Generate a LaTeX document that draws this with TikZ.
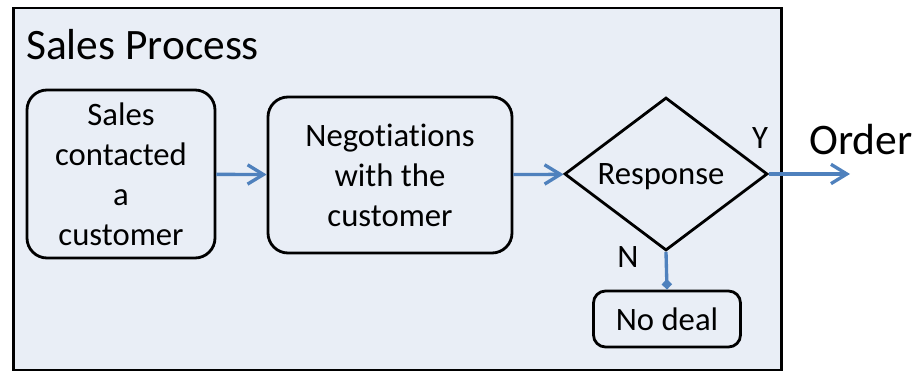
\documentclass[tikz,border=0pt]{standalone}
\usepackage{fontspec}
\setmainfont{Carlito}[Ligatures=NoCommon]
\usetikzlibrary{arrows.meta,shapes.geometric}

\definecolor{panelbg}{RGB}{233,238,246}
\definecolor{flowblue}{RGB}{79,129,189}

\begin{document}
\begin{tikzpicture}[
  stepbox/.style={
    draw, line width=1.6pt, rounded corners=0.4cm, align=center,
    font=\fontsize{18.6}{22.8}\selectfont, inner sep=2pt,
  },
  decision/.style={
    draw, line width=1.6pt, shape=diamond, inner sep=0pt, text depth=0pt,
    font=\fontsize{18.6}{22.8}\selectfont,
  },
  tag/.style={font=\fontsize{18.6}{22.8}\selectfont},
  flow/.style={-{Straight Barb[length=9pt, width=11pt]}, line width=1.9pt, flowblue},
]
\useasboundingbox (0,0) rectangle (18.32,7.48);

% Panel behind the process
\node[draw, line width=1.6pt, fill=panelbg, minimum width=15.36cm,
      minimum height=7.24cm, inner sep=0pt, anchor=south west] (panel) at (0.24,0.05) {};
\node[font=\fontsize{24.7}{28}\selectfont, anchor=west] (title) at (0.40,6.58) {Sales Process};

% Process steps
\node[stepbox, minimum width=3.76cm, minimum height=3.36cm] (contact) at (2.42,4.0)
  {Sales\\contacted\\a\\customer};
\node[stepbox, minimum width=4.88cm, minimum height=3.12cm] (nego) at (7.80,3.98)
  {Negotiations\\with the\\customer};
\node[decision, minimum width=4.06cm, minimum height=3.06cm] (resp) at (13.32,4.0)
  {\hspace{-0.2cm}Response};
\node[stepbox, rounded corners=0.24cm, minimum width=2.94cm, minimum height=1.12cm] (nodeal)
  at (13.34,1.10) {No deal};

% Outcome
\coordinate (orderend) at (17.0,4.0);
\node[font=\fontsize{24.8}{28}\selectfont] (order) at (17.22,4.68) {Order};
\node[tag] (yes) at (15.20,4.72) {Y};
\node[tag] (no) at (12.56,2.34) {N};

% Connectors
\draw[flow] (contact) -- (nego);
\draw[flow] (nego) -- (resp);
\draw[flow] (resp.east) -- (orderend);
\draw[line width=1.9pt, flowblue, -{Diamond[length=6pt, width=6pt]}] (resp.south) -- (nodeal.north);

\end{tikzpicture}
\end{document}
